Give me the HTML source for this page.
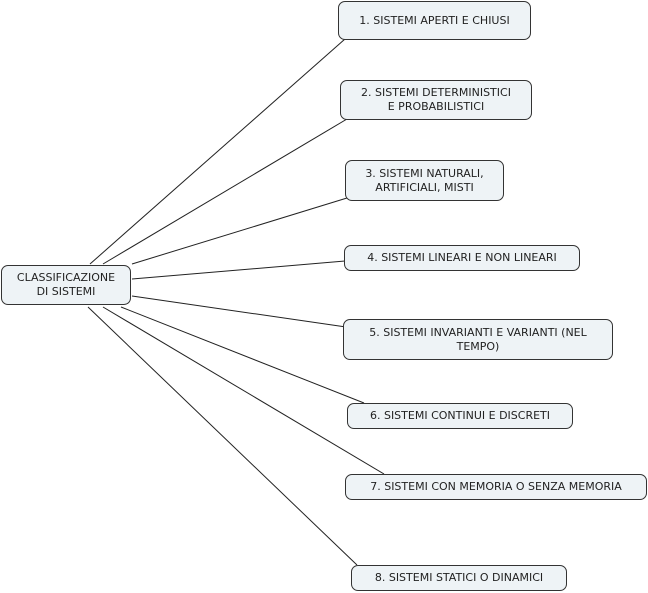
<!DOCTYPE html>
<html><head><meta charset="utf-8"><style>
body{margin:0;width:648px;height:593px;background:#fff;position:relative;overflow:hidden;font-family:"DejaVu Sans","Liberation Sans",sans-serif;font-size:11px;color:#222}
.b{position:absolute;box-sizing:border-box;border:1px solid #333;border-radius:7px;background:#eef3f6;display:flex;align-items:center;justify-content:center;text-align:center;line-height:14px;white-space:nowrap}
svg{position:absolute;left:0;top:0}
</style></head><body>
<svg width="648" height="593"><g stroke="#222" stroke-width="1" fill="none">
<line x1="90" y1="264" x2="345" y2="39"/>
<line x1="103" y1="264" x2="347" y2="119"/>
<line x1="132" y1="264" x2="347" y2="198"/>
<line x1="132" y1="279" x2="345" y2="261"/>
<line x1="132" y1="296" x2="346" y2="327"/>
<line x1="121" y1="307" x2="364" y2="403"/>
<line x1="103" y1="307" x2="384" y2="474"/>
<line x1="88" y1="307" x2="357" y2="565"/>
</g></svg>
<div class="b" style="left:1px;top:265px;width:130px;height:40px">CLASSIFICAZIONE<br>DI SISTEMI</div>
<div class="b" style="left:338px;top:1px;width:193px;height:39px">1. SISTEMI APERTI E CHIUSI</div>
<div class="b" style="left:340px;top:80px;width:192px;height:40px">2. SISTEMI DETERMINISTICI<br>E PROBABILISTICI</div>
<div class="b" style="left:345px;top:160px;width:159px;height:41px">3. SISTEMI NATURALI,<br>ARTIFICIALI, MISTI</div>
<div class="b" style="left:344px;top:245px;width:236px;height:26px">4. SISTEMI LINEARI E NON LINEARI</div>
<div class="b" style="left:343px;top:319px;width:270px;height:41px">5. SISTEMI INVARIANTI E VARIANTI (NEL<br>TEMPO)</div>
<div class="b" style="left:347px;top:403px;width:226px;height:26px">6. SISTEMI CONTINUI E DISCRETI</div>
<div class="b" style="left:345px;top:474px;width:302px;height:26px">7. SISTEMI CON MEMORIA O SENZA MEMORIA</div>
<div class="b" style="left:351px;top:565px;width:216px;height:26px">8. SISTEMI STATICI O DINAMICI</div>
</body></html>
